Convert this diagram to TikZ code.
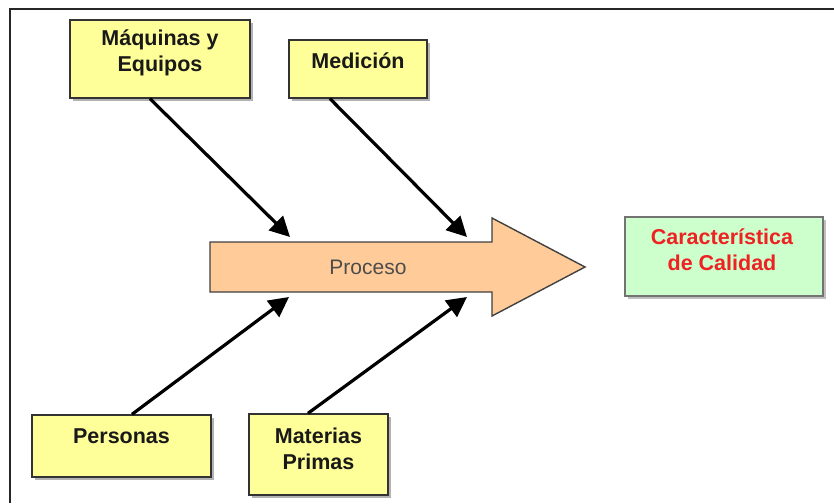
\documentclass[tikz,border=0pt]{standalone}
\usepackage{fontspec}
\setmainfont{Liberation Sans}
\usetikzlibrary{arrows.meta}
\definecolor{causeyellow}{HTML}{FFFF99}
\definecolor{effectgreen}{HTML}{CCFFCC}
\definecolor{spinepeach}{HTML}{FFCC99}
\definecolor{effectred}{HTML}{EE2222}
\begin{document}
\begin{tikzpicture}[x=1pt,y=-1pt,
  causebox/.style={draw=black!80, line width=1.4pt, fill=causeyellow, inner sep=0pt},
  boxlabel/.style={font=\fontsize{21.5}{26}\selectfont\bfseries, align=center, inner sep=0pt, text=black!90},
  bone/.style={line width=3.2pt, -{Triangle[length=20pt,width=20pt]}}
]
\useasboundingbox (0,0) rectangle (834,503);
% frame
\draw[line width=2pt, black!85] (10,503) -- (10,9) -- (834,9);

% drop shadows
\fill[black!30] (73,23) rectangle (253,101);
\fill[black!30] (292,43) rectangle (430,101);
\fill[black!30] (35,418) rectangle (214,480);
\fill[black!30] (252,417) rectangle (391,498);
\fill[black!25] (628,220) rectangle (826,299);

% cause boxes
\node[causebox, minimum width=180pt, minimum height=78pt] (mq) at (160,59) {};
\node[causebox, minimum width=138pt, minimum height=58pt] (med) at (358,69) {};
\node[causebox, minimum width=179pt, minimum height=62pt] (per) at (121.5,446) {};
\node[causebox, minimum width=139pt, minimum height=81pt] (mat) at (318.5,454.5) {};
\node[draw=black!55, line width=1.4pt, fill=effectgreen, inner sep=0pt,
  minimum width=198pt, minimum height=79pt] (cal) at (724,256.5) {};

% labels
\node[boxlabel] (mqtext) at (160,53) {Máquinas y\\Equipos};
\node[boxlabel] (medtext) at (358,61) {Medición};
\node[boxlabel] (pertext) at (121.5,436) {Personas};
\node[boxlabel] (mattext) at (318.5,448.5) {Materias\\Primas};
\node[boxlabel, text=effectred] (caltext) at (722,250) {Característica\\de Calidad};

% spine arrow
\draw[fill=spinepeach, draw=black!75, line width=1.4pt]
  (210,242) -- (492,242) -- (492,218) -- (585,267) -- (492,316) -- (492,292) -- (210,292) -- cycle;
\node[font=\fontsize{21}{24}\selectfont, text=black!70, inner sep=0pt] (proc) at (368,267) {Proceso};

% tips of the bones on the spine
\coordinate (t1) at (290,237);
\coordinate (t2) at (467,237);
\coordinate (t3) at (289,297);
\coordinate (t4) at (467,297);

% bones
\draw[bone] ([xshift=-10pt]mq.south) -- (t1);
\draw[bone] ([xshift=-28pt]med.south) -- (t2);
\draw[bone] ([xshift=10.5pt]per.north) -- (t3);
\draw[bone] ([xshift=-10.5pt]mat.north) -- (t4);
\end{tikzpicture}
\end{document}
